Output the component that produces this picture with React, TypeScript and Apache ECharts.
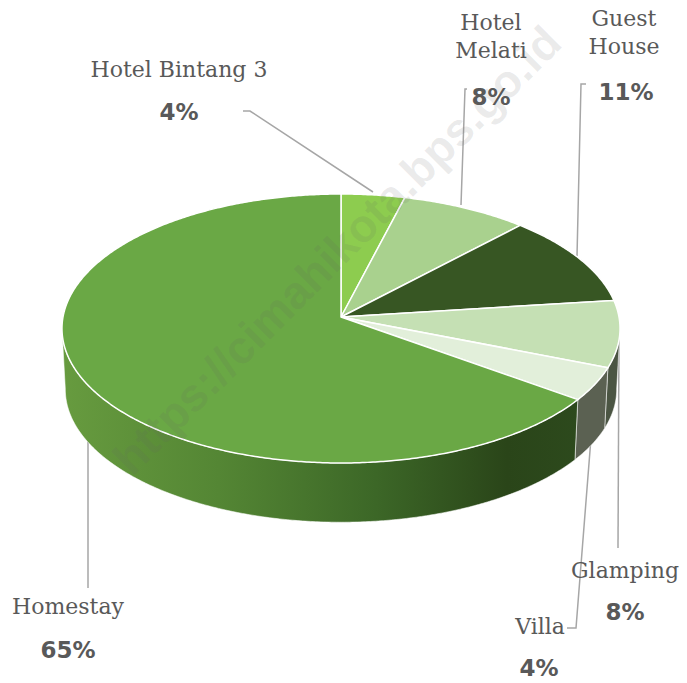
import React, { useEffect, useRef } from 'react';
import * as echarts from 'echarts';

// ---- data ----
const categories = ['Hotel Bintang 3', 'Hotel Melati', 'Guest House', 'Glamping', 'Villa', 'Homestay'];
const values = [4, 8, 11, 8, 4, 65];
const labelNames = ['Hotel Bintang 3', 'Hotel\nMelati', 'Guest\nHouse', 'Glamping', 'Villa', 'Homestay'];

// ---- styles / layout ----
const topColors = ['#8dcc4f', '#a9d18e', '#375623', '#c5e0b4', '#e2efda', '#6aa845'];
const sideColors = ['#5c8a33', '#70905c', '#243a17', '#4b5543', '#5b6152', null];
const nameXY = [[179, 69], [491, 36], [624, 32], [625, 570], [540, 626], [68, 606]];
const pctXY = [[179, 112], [491, 97], [626, 92], [625, 612], [539, 668], [68, 650]];
const leaders = [
  [[243, 111], [250, 111], [373, 192]],
  [[467, 89], [465, 89], [461, 205]],
  [[586, 84], [581, 84], [577, 256]],
  [[619, 330], [618, 548]],
  [[594, 400], [576, 628], [567, 628]],
  [[88, 420], [88, 588]],
];

const CX = 341, CY = 317, RX = 278, RY = 133.5, K = 0.0855, DEPTH = 61;

function proj(theta: number, h: number): number[] {
  const u = Math.sin(theta), v = Math.cos(theta);
  const s = 1 - 0.012 * h;
  const d = 1 + K * v;
  return [CX + (RX * s * u) / d, CY + h * DEPTH - (RY * s * v) / d];
}

function arc(a: number, b: number, h: number): number[][] {
  const pts: number[][] = [];
  const n = Math.max(2, Math.ceil(((b - a) * 180) / Math.PI / 0.5));
  for (let i = 0; i <= n; i++) pts.push(proj(a + ((b - a) * i) / n, h));
  return pts;
}

export default function App() {
  const ref = useRef<HTMLDivElement>(null);
  useEffect(() => {
    document.body.style.margin = '0';
    const chart = echarts.init(ref.current!, null, { renderer: 'svg' });
    const total = values.reduce((a, b) => a + b, 0);
    const starts: number[] = [];
    const ends: number[] = [];
    let acc = 0;
    values.forEach((v) => {
      starts.push((acc / total) * Math.PI * 2);
      acc += v;
      ends.push((acc / total) * Math.PI * 2);
    });
    const thR = Math.acos(-K);
    const thL = Math.PI * 2 - thR;

    const homeGrad = new echarts.graphic.LinearGradient(62, 0, 585, 0, [
      { offset: 0, color: '#679b3f' },
      { offset: 0.3, color: '#548634' },
      { offset: 0.6, color: '#3c6727' },
      { offset: 0.85, color: '#2a4519' },
      { offset: 1, color: '#2d4a1d' },
    ], true);

    const renderItem = (params: any, api: any) => {
      const i = params.dataIndex;
      const v = api.value(0);
      const a = starts[i], b = ends[i];
      const children: any[] = [];
      // leader line
      children.push({
        type: 'polyline',
        z2: 0,
        shape: { points: leaders[i] },
        style: { stroke: '#a6a6a6', lineWidth: 1.5, fill: null },
      });
      // side
      const sa = Math.max(a, thR), sb = Math.min(b, thL);
      if (sb > sa) {
        const top = arc(sa, sb, 0);
        const bot = arc(sa, sb, 1).reverse();
        children.push({
          type: 'polygon',
          z2: 2,
          shape: { points: top.concat(bot) },
          style: {
            fill: i === 5 ? homeGrad : sideColors[i],
            stroke: 'rgba(255,255,255,0.55)',
            lineWidth: 1,
            lineJoin: 'round',
          },
        });
      }
      // top face
      children.push({
        type: 'polygon',
        z2: 10,
        shape: { points: [[CX, CY]].concat(arc(a, b, 0)) },
        style: { fill: topColors[i], stroke: '#ffffff', lineWidth: 1.5, lineJoin: 'round' },
      });
      // labels
      children.push({
        type: 'text',
        z2: 20,
        style: {
          text: labelNames[i],
          x: nameXY[i][0],
          y: nameXY[i][1],
          align: 'center',
          verticalAlign: 'middle',
          fill: '#595959',
          fontFamily: 'DejaVu Serif',
          fontSize: 22,
          lineHeight: 28,
        },
      });
      children.push({
        type: 'text',
        z2: 20,
        style: {
          text: Math.round((v / total) * 100) + '%',
          x: pctXY[i][0],
          y: pctXY[i][1],
          align: 'center',
          verticalAlign: 'middle',
          fill: '#595959',
          fontFamily: 'DejaVu Sans',
          fontWeight: 'bold',
          fontSize: 23,
        },
      });
      return { type: 'group', children };
    };

    chart.setOption({
      animation: false,
      backgroundColor: '#ffffff',
      series: [
        {
          type: 'custom',
          coordinateSystem: 'none',
          renderItem,
          data: values.map((v, i) => ({ name: categories[i], value: [v] })),
        },
      ],
      graphic: [
        {
          type: 'text',
          z: 100,
          x: 337,
          y: 250,
          rotation: Math.PI / 4,
          silent: true,
          style: {
            text: 'https://cimahikota.bps.go.id',
            align: 'center',
            verticalAlign: 'middle',
            fill: 'rgba(100,100,100,0.13)',
            fontFamily: 'Liberation Sans',
            fontWeight: 'bold',
            fontSize: 46,
          },
        },
      ],
    });
    return () => chart.dispose();
  }, []);
  return <div ref={ref} style={{ width: 687, height: 683 }} />;
}
